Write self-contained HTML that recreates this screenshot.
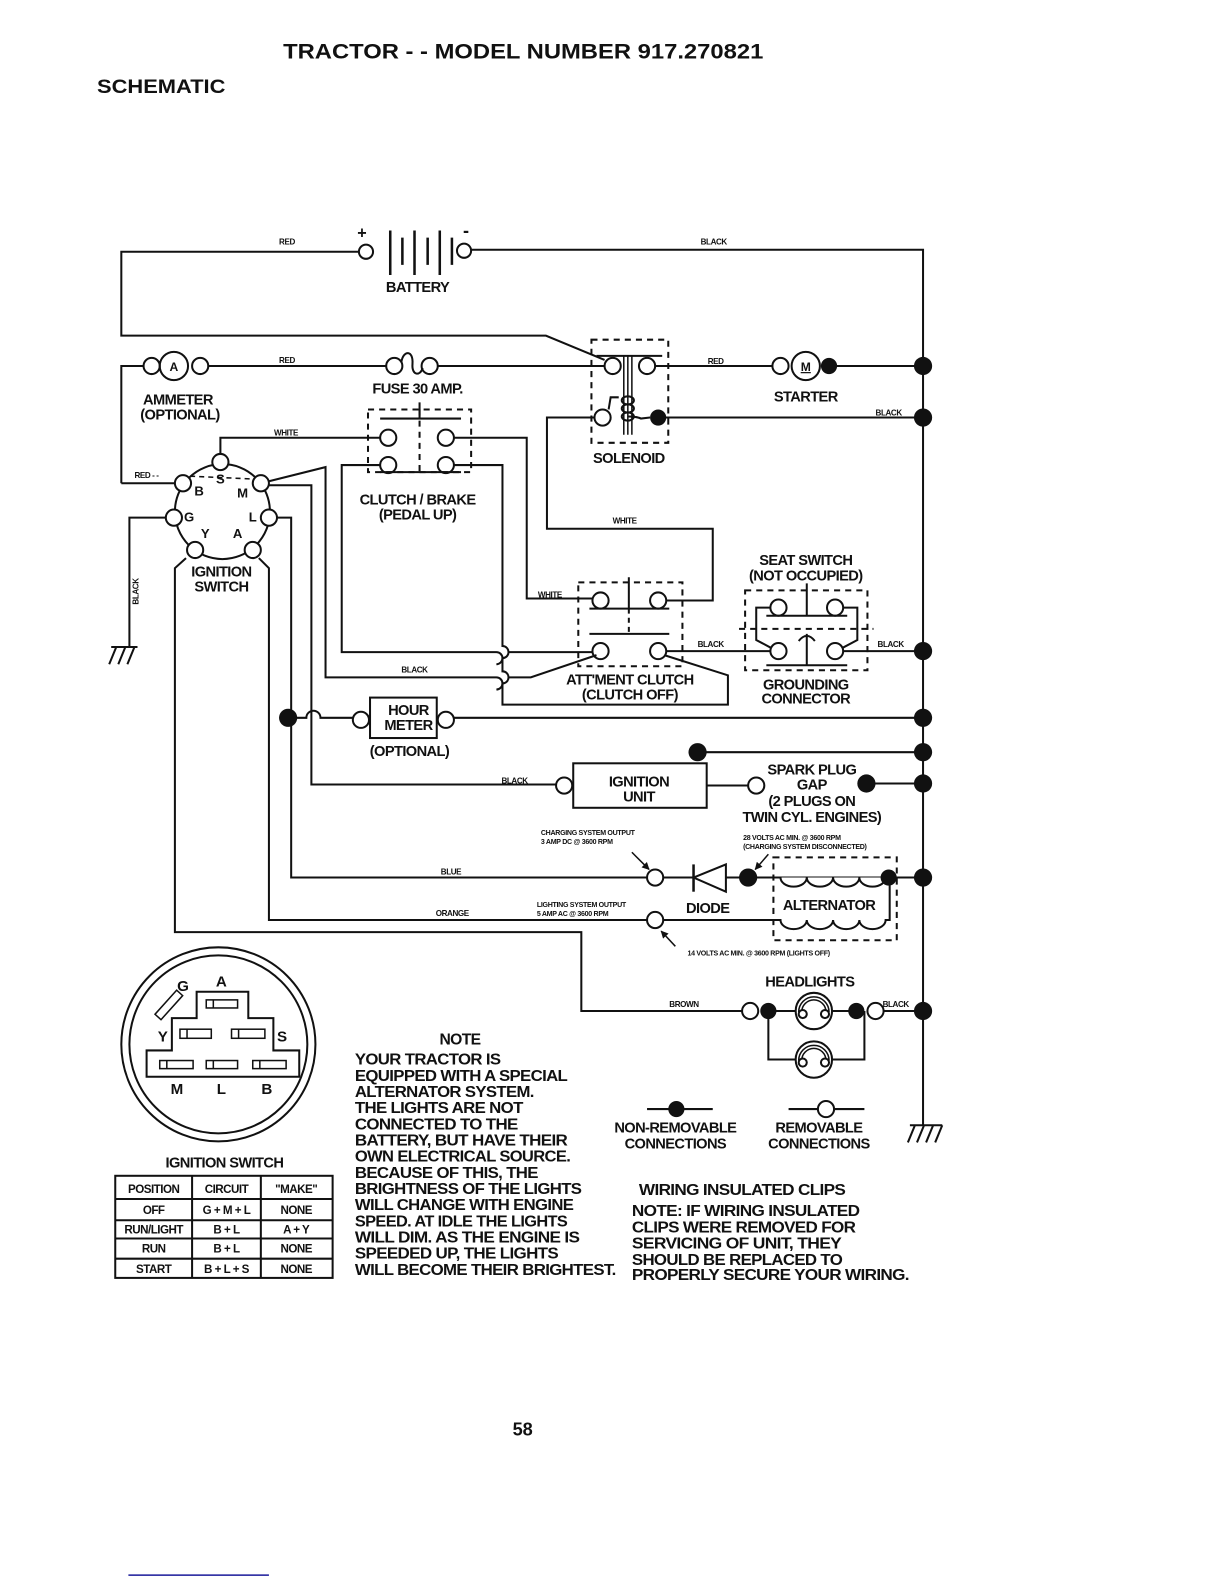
<!DOCTYPE html>
<html><head><meta charset="utf-8"><style>
html,body{margin:0;padding:0;background:#fff;width:1224px;height:1584px;overflow:hidden}
svg{display:block}
text{font-family:"Liberation Sans",Arial,sans-serif;font-weight:bold;fill:#111}
.l{font-size:14.5px;letter-spacing:-0.6px;text-anchor:middle}
.s{font-size:8px;letter-spacing:-0.4px}
.t{font-size:7px;letter-spacing:-0.3px}
.n{font-size:15.5px;letter-spacing:-0.6px}
</style></head><body>
<svg width="1224" height="1584" viewBox="0 0 1224 1584" xmlns="http://www.w3.org/2000/svg">
<defs><marker id="ah" viewBox="0 0 10 10" refX="9" refY="5" markerWidth="5" markerHeight="5" orient="auto"><path d="M0,0 L10,5 L0,10 Z" fill="#111"/></marker></defs>
<g transform="scale(1.011)">
<g fill="none" stroke="#111" stroke-width="2">
<path d="M355,249 H120 V332 H540 L598,356"/>
<path d="M466,247 H913 V1113"/>
<path d="M386,228 V272 M410,228 V272 M435,228 V272" stroke-width="2.5"/>
<path d="M398,235 V262 M423,235 V262 M447,235 V262" stroke-width="2.5"/>
<circle cx="362" cy="249" r="7"/><circle cx="459" cy="248" r="7"/>
<path d="M120,478 V362 H142"/>
<circle cx="150" cy="362" r="8"/><circle cx="172" cy="362" r="14"/><circle cx="198" cy="362" r="8"/>
<path d="M206,362 H382"/>
<circle cx="390" cy="362" r="8"/><circle cx="425" cy="362" r="8"/>
<path d="M397,358 C399,346 409,346 408,360 C407,372 416,372 418,364"/>
<path d="M433,362 H598"/>
<rect x="585" y="336" width="76" height="102" stroke-dasharray="6,5"/>
<path d="M590,352 H655"/>
<path d="M617,352 V430 M621,352 V430 M625,352 V430" stroke-width="1.5"/>
<circle cx="606" cy="362" r="8"/><circle cx="640" cy="362" r="8"/>
<circle cx="596" cy="413" r="8"/>
<path d="M602,405 L604,393 H612 M621,412 Q630,412 634,414 L643,413"/>
<ellipse cx="621" cy="396" rx="6" ry="4"/><ellipse cx="621" cy="404" rx="6" ry="4"/><ellipse cx="621" cy="412" rx="6" ry="4"/>
<path d="M648,362 H764"/>
<circle cx="772" cy="362" r="8"/><circle cx="797" cy="362" r="14"/>
<path d="M820,362 H913"/>
<path d="M651,413 H913"/>
<path d="M588,413 H541 V523 H705 V594 H659"/>
<rect x="364" y="405" width="102" height="62" stroke-dasharray="6,5"/>
<path d="M415,405 V467" stroke-dasharray="6,5"/>
<path d="M376,414 H456 M415,398 V414 M376,467 H456"/>
<circle cx="384" cy="433" r="8"/><circle cx="441" cy="433" r="8"/>
<circle cx="384" cy="460" r="8"/><circle cx="441" cy="460" r="8"/>
<circle cx="220" cy="506" r="47"/>
<path d="M184,552 L173,562 V922 H575 V1000 H734"/>
<path d="M256,552 L266,562 V910 H640"/>
<path d="M274,512 H288 V868 H640"/>
<path d="M266,480 H308 V776 H550"/>
<path d="M266,476 L322,462 V670 H491 a6,6 0 0 1 0,12 M503,670 H525 L590,648"/>
<path d="M218,449 V433 H376"/>
<path d="M164,512 H128 V640"/>
<path d="M120,478 H173"/>
<path d="M188,471 L255,474" stroke-dasharray="5,4" stroke-width="1.5"/>
<g fill="#fff">
<circle cx="181" cy="478" r="8"/><circle cx="218" cy="457" r="8"/><circle cx="258" cy="478" r="8"/>
<circle cx="172" cy="512" r="8"/><circle cx="266" cy="512" r="8"/>
<circle cx="193" cy="544" r="8"/><circle cx="250" cy="544" r="8"/>
</g>
<path d="M376,460 H338 V645 H491 a6,6 0 0 1 0,12 M503,645 H586"/>
<path d="M449,460 H497 V639 a6,6 0 0 1 0,12 V664 a6,6 0 0 1 0,12 V697 H720 V668 L657,648"/>
<path d="M449,433 H521 V592 H586"/>
<rect x="572" y="576" width="103" height="83" stroke-dasharray="6,5"/>
<path d="M583,602 H662 M622,571 V602 M583,627 H662"/>
<path d="M622,602 V627" stroke-dasharray="5,4"/>
<circle cx="594" cy="594" r="8"/><circle cx="651" cy="594" r="8"/>
<circle cx="594" cy="644" r="8"/><circle cx="651" cy="644" r="8"/>
<path d="M659,644 H762"/>
<rect x="737" y="584" width="121" height="79" stroke-dasharray="6,5"/>
<path d="M731,622 H864" stroke-dasharray="6,5"/>
<path d="M758,609 H838 M798,577 V609 M798,627 V658 M758,658 H838 M790,634 Q798,624 806,634"/>
<path d="M762,601 H748 V633 L763,641 M834,601 H848 V633 L833,641"/>
<circle cx="770" cy="601" r="8"/><circle cx="826" cy="601" r="8"/>
<circle cx="770" cy="644" r="8"/><circle cx="826" cy="644" r="8"/>
<path d="M834,644 H913"/>
<path d="M288,710 H303 a7,7 0 0 1 14,0 H349"/>
<circle cx="357" cy="712" r="8"/>
<rect x="366" y="690" width="66" height="40"/>
<circle cx="441" cy="712" r="8"/>
<path d="M449,710 H913"/>
<circle cx="558" cy="777" r="8"/>
<rect x="567" y="755" width="132" height="44"/>
<path d="M699,777 H740"/>
<circle cx="748" cy="777" r="8"/>
<path d="M690,744 H913 M857,775 H913"/>
<circle cx="648" cy="868" r="8"/>
<path d="M656,868 H913"/>
<path d="M686,855 V882" stroke-width="2.5"/>
<path d="M686,868 L718,855 V882 Z" fill="#fff"/>
<rect x="765" y="848" width="122" height="82" stroke-dasharray="6,5"/>
<path d="M772,868 a13,9 0 0 0 26,0 a13,9 0 0 0 26,0 a13,9 0 0 0 26,0 a13,9 0 0 0 26,0" fill="#fff"/>
<path d="M656,910 H772 a13,9 0 0 0 26,0 a13,9 0 0 0 26,0 a13,9 0 0 0 26,0 a13,9 0 0 0 26,0 H880 V868"/>
<circle cx="648" cy="910" r="8" fill="#fff"/>
<path d="M625,843 L642,860" stroke-width="1.5" marker-end="url(#ah)"/>
<path d="M760,845 L747,860" stroke-width="1.5" marker-end="url(#ah)"/>
<path d="M668,936 L654,921" stroke-width="1.5" marker-end="url(#ah)"/>
<circle cx="742" cy="1000" r="8"/>
<path d="M760,1000 H787 M823,1000 H847 M760,1000 V1048 H787 M823,1048 H855 V1000 M874,1000 H913"/>
<circle cx="866" cy="1000" r="8"/>
<circle cx="805" cy="1000" r="18"/><circle cx="805" cy="1048" r="18"/>
<path d="M793,1001 a12,12 0 0 1 24,0 M790,1001 a15,15 0 0 1 30,0" stroke-width="1.5"/>
<path d="M793,1049 a12,12 0 0 1 24,0 M790,1049 a15,15 0 0 1 30,0" stroke-width="1.5"/>
<circle cx="794" cy="1003" r="4" fill="#fff"/><circle cx="816" cy="1003" r="4" fill="#fff"/>
<circle cx="794" cy="1051" r="4" fill="#fff"/><circle cx="816" cy="1051" r="4" fill="#fff"/>
<path d="M640,1097 H705 M780,1097 H855"/>
<circle cx="817" cy="1097" r="8" fill="#fff"/>
<path d="M110,640 H136 M115,640 L108,657 M124,640 L117,657 M133,640 L126,657"/>
<path d="M900,1113 H932 M905,1113 L898,1130 M914,1113 L907,1130 M923,1113 L916,1130 M932,1113 L925,1130"/>
<circle cx="216" cy="1033" r="96"/><circle cx="216" cy="1033" r="88"/>
<path d="M145,1039 H170 V1007 H194.5 V981 H245.6 V1007 H270.4 V1039 H296 V1065 H145 Z"/>
<g stroke-width="1.5">
<rect x="204" y="989" width="31" height="8"/><path d="M211,989 V997"/>
<rect x="178" y="1018" width="31" height="9"/><path d="M185,1018 V1027"/>
<rect x="229" y="1018" width="33" height="9"/><path d="M236,1018 V1027"/>
<rect x="158" y="1049" width="33" height="8"/><path d="M165,1049 V1057"/>
<rect x="204" y="1049" width="31" height="8"/><path d="M211,1049 V1057"/>
<rect x="250" y="1049" width="33" height="8"/><path d="M257,1049 V1057"/>
<rect x="-16" y="-4" width="32" height="8" transform="translate(167,994) rotate(-48)"/>
</g>
<rect x="114" y="1163" width="215" height="101"/>
<path d="M190,1163 V1264 M258,1163 V1264 M114,1186 H329 M114,1207 H329 M114,1225 H329 M114,1245 H329"/>
<path d="M127,1558 H266" stroke="#1a1a9a" stroke-width="1.5"/>
</g>
<g fill="#111">
<circle cx="651" cy="413" r="8"/><circle cx="820" cy="362" r="8"/>
<circle cx="913" cy="362" r="9"/><circle cx="913" cy="413" r="9"/><circle cx="913" cy="644" r="9"/>
<circle cx="913" cy="710" r="9"/><circle cx="913" cy="744" r="9"/><circle cx="913" cy="775" r="9"/>
<circle cx="913" cy="868" r="9"/><circle cx="913" cy="1000" r="9"/>
<circle cx="285" cy="710" r="9"/><circle cx="690" cy="744" r="9"/><circle cx="857" cy="775" r="9"/>
<circle cx="740" cy="868" r="9"/><circle cx="879" cy="868" r="8"/>
<circle cx="760" cy="1000" r="8"/><circle cx="847" cy="1000" r="8"/>
<circle cx="669" cy="1097" r="8"/>
</g>
<text x="280" y="58" font-size="21" textLength="475" lengthAdjust="spacingAndGlyphs">TRACTOR - - MODEL NUMBER 917.270821</text>
<text x="96" y="92" font-size="19" textLength="127" lengthAdjust="spacingAndGlyphs">SCHEMATIC</text>
<text x="358" y="236" font-size="16" text-anchor="middle">+</text>
<text x="461" y="234" font-size="18" text-anchor="middle">-</text>
<text class="l" x="413" y="289">BATTERY</text>
<text class="s" x="276" y="242">RED</text><text class="s" x="693" y="242">BLACK</text>
<text class="s" x="276" y="359">RED</text><text class="s" x="700" y="360">RED</text>
<text class="s" x="866" y="411">BLACK</text><text class="s" x="271" y="431">WHITE</text>
<text class="s" x="133" y="473">RED - -</text>
<text class="s" x="606" y="518">WHITE</text><text class="s" x="532" y="591">WHITE</text>
<text class="s" x="397" y="665">BLACK</text><text class="s" x="690" y="640">BLACK</text>
<text class="s" x="868" y="640">BLACK</text><text class="s" x="496" y="775">BLACK</text>
<text class="s" x="436" y="865">BLUE</text><text class="s" x="431" y="906">ORANGE</text>
<text class="s" x="662" y="996">BROWN</text><text class="s" x="873" y="996">BLACK</text>
<text class="s" transform="translate(137,598) rotate(-90)">BLACK</text>
<text x="172" y="367" font-size="12" text-anchor="middle">A</text>
<text x="797" y="367" font-size="12" text-anchor="middle" text-decoration="underline">M</text>
<text class="l" x="176" y="400">AMMETER</text><text class="l" x="178" y="415">(OPTIONAL)</text>
<text class="l" x="413" y="389">FUSE 30 AMP.</text>
<text class="l" x="622" y="458">SOLENOID</text>
<text class="l" x="797" y="397">STARTER</text>
<text class="l" x="413" y="499">CLUTCH / BRAKE</text><text class="l" x="413" y="514">(PEDAL UP)</text>
<text x="218" y="478" font-size="13" text-anchor="middle">S</text>
<text x="197" y="490" font-size="13" text-anchor="middle">B</text>
<text x="240" y="492" font-size="13" text-anchor="middle">M</text>
<text x="187" y="516" font-size="13" text-anchor="middle">G</text>
<text x="250" y="516" font-size="13" text-anchor="middle">L</text>
<text x="203" y="532" font-size="13" text-anchor="middle">Y</text>
<text x="235" y="532" font-size="13" text-anchor="middle">A</text>
<text class="l" x="219" y="570">IGNITION</text><text class="l" x="219" y="585">SWITCH</text>
<text class="l" x="797" y="559">SEAT SWITCH</text><text class="l" x="797" y="574">(NOT OCCUPIED)</text>
<text class="l" x="623" y="677">ATT'MENT CLUTCH</text><text class="l" x="623" y="692">(CLUTCH OFF)</text>
<text class="l" x="797" y="682">GROUNDING</text><text class="l" x="797" y="696">CONNECTOR</text>
<text class="l" x="404" y="707">HOUR</text><text class="l" x="404" y="722">METER</text>
<text class="l" x="405" y="748">(OPTIONAL)</text>
<text class="l" x="632" y="778">IGNITION</text><text class="l" x="632" y="793">UNIT</text>
<text class="l" x="803" y="766">SPARK PLUG</text><text class="l" x="803" y="781">GAP</text>
<text class="l" x="803" y="797">(2 PLUGS ON</text><text class="l" x="803" y="813">TWIN CYL. ENGINES)</text>
<text class="t" x="535" y="826">CHARGING SYSTEM OUTPUT</text><text class="t" x="535" y="835">3 AMP DC @ 3600 RPM</text>
<text class="t" x="735" y="831">28 VOLTS AC MIN. @ 3600 RPM</text><text class="t" x="735" y="840">(CHARGING SYSTEM DISCONNECTED)</text>
<text class="t" x="531" y="897">LIGHTING SYSTEM OUTPUT</text><text class="t" x="531" y="906">5 AMP AC @ 3600 RPM</text>
<text class="t" x="680" y="945">14 VOLTS AC MIN. @ 3600 RPM (LIGHTS OFF)</text>
<text class="l" x="700" y="903">DIODE</text>
<text class="l" x="820" y="900">ALTERNATOR</text>
<text class="l" x="801" y="976">HEADLIGHTS</text>
<text class="l" x="668" y="1120">NON-REMOVABLE</text><text class="l" x="668" y="1136">CONNECTIONS</text>
<text class="l" x="810" y="1120">REMOVABLE</text><text class="l" x="810" y="1136">CONNECTIONS</text>
<text x="219" y="976" font-size="15" text-anchor="middle">A</text>
<text x="181" y="980" font-size="15" text-anchor="middle">G</text>
<text x="161" y="1030" font-size="15" text-anchor="middle">Y</text>
<text x="279" y="1030" font-size="15" text-anchor="middle">S</text>
<text x="175" y="1082" font-size="15" text-anchor="middle">M</text>
<text x="219" y="1082" font-size="15" text-anchor="middle">L</text>
<text x="264" y="1082" font-size="15" text-anchor="middle">B</text>
<text class="l" x="222" y="1155">IGNITION SWITCH</text>
<g font-size="11.5" text-anchor="middle" letter-spacing="-0.5">
<text x="152" y="1180">POSITION</text><text x="224" y="1180">CIRCUIT</text><text x="293" y="1180">"MAKE"</text>
<text x="152" y="1201">OFF</text><text x="224" y="1201">G + M + L</text><text x="293" y="1201">NONE</text>
<text x="152" y="1220">RUN/LIGHT</text><text x="224" y="1220">B + L</text><text x="293" y="1220">A + Y</text>
<text x="152" y="1239">RUN</text><text x="224" y="1239">B + L</text><text x="293" y="1239">NONE</text>
<text x="152" y="1259">START</text><text x="224" y="1259">B + L + S</text><text x="293" y="1259">NONE</text>
</g>
<text class="n" x="455" y="1033" text-anchor="middle">NOTE</text>
<g class="n">
<text x="351" y="1053" textLength="144" lengthAdjust="spacingAndGlyphs">YOUR TRACTOR IS</text>
<text x="351" y="1069" textLength="210" lengthAdjust="spacingAndGlyphs">EQUIPPED WITH A SPECIAL</text>
<text x="351" y="1085" textLength="177" lengthAdjust="spacingAndGlyphs">ALTERNATOR SYSTEM.</text>
<text x="351" y="1101" textLength="166" lengthAdjust="spacingAndGlyphs">THE LIGHTS ARE NOT</text>
<text x="351" y="1117" textLength="161" lengthAdjust="spacingAndGlyphs">CONNECTED TO THE</text>
<text x="351" y="1133" textLength="210" lengthAdjust="spacingAndGlyphs">BATTERY, BUT HAVE THEIR</text>
<text x="351" y="1149" textLength="213" lengthAdjust="spacingAndGlyphs">OWN ELECTRICAL SOURCE.</text>
<text x="351" y="1165" textLength="181" lengthAdjust="spacingAndGlyphs">BECAUSE OF THIS, THE</text>
<text x="351" y="1181" textLength="224" lengthAdjust="spacingAndGlyphs">BRIGHTNESS OF THE LIGHTS</text>
<text x="351" y="1197" textLength="216" lengthAdjust="spacingAndGlyphs">WILL CHANGE WITH ENGINE</text>
<text x="351" y="1213" textLength="210" lengthAdjust="spacingAndGlyphs">SPEED.  AT IDLE THE LIGHTS</text>
<text x="351" y="1229" textLength="222" lengthAdjust="spacingAndGlyphs">WILL DIM.  AS THE ENGINE IS</text>
<text x="351" y="1245" textLength="201" lengthAdjust="spacingAndGlyphs">SPEEDED UP, THE LIGHTS</text>
<text x="351" y="1261" textLength="258" lengthAdjust="spacingAndGlyphs">WILL BECOME THEIR BRIGHTEST.</text>
<text x="632" y="1182" textLength="204" lengthAdjust="spacingAndGlyphs">WIRING INSULATED CLIPS</text>
<text x="625" y="1203" textLength="225" lengthAdjust="spacingAndGlyphs">NOTE: IF WIRING INSULATED</text>
<text x="625" y="1219" textLength="221" lengthAdjust="spacingAndGlyphs">CLIPS WERE REMOVED FOR</text>
<text x="625" y="1235" textLength="207" lengthAdjust="spacingAndGlyphs">SERVICING OF UNIT, THEY</text>
<text x="625" y="1251" textLength="208" lengthAdjust="spacingAndGlyphs">SHOULD BE REPLACED TO</text>
<text x="625" y="1266" textLength="274" lengthAdjust="spacingAndGlyphs">PROPERLY SECURE YOUR WIRING.</text>
</g>
<text x="517" y="1420" font-size="18" text-anchor="middle" font-weight="normal">58</text>
</g>
</svg>
</body></html>
